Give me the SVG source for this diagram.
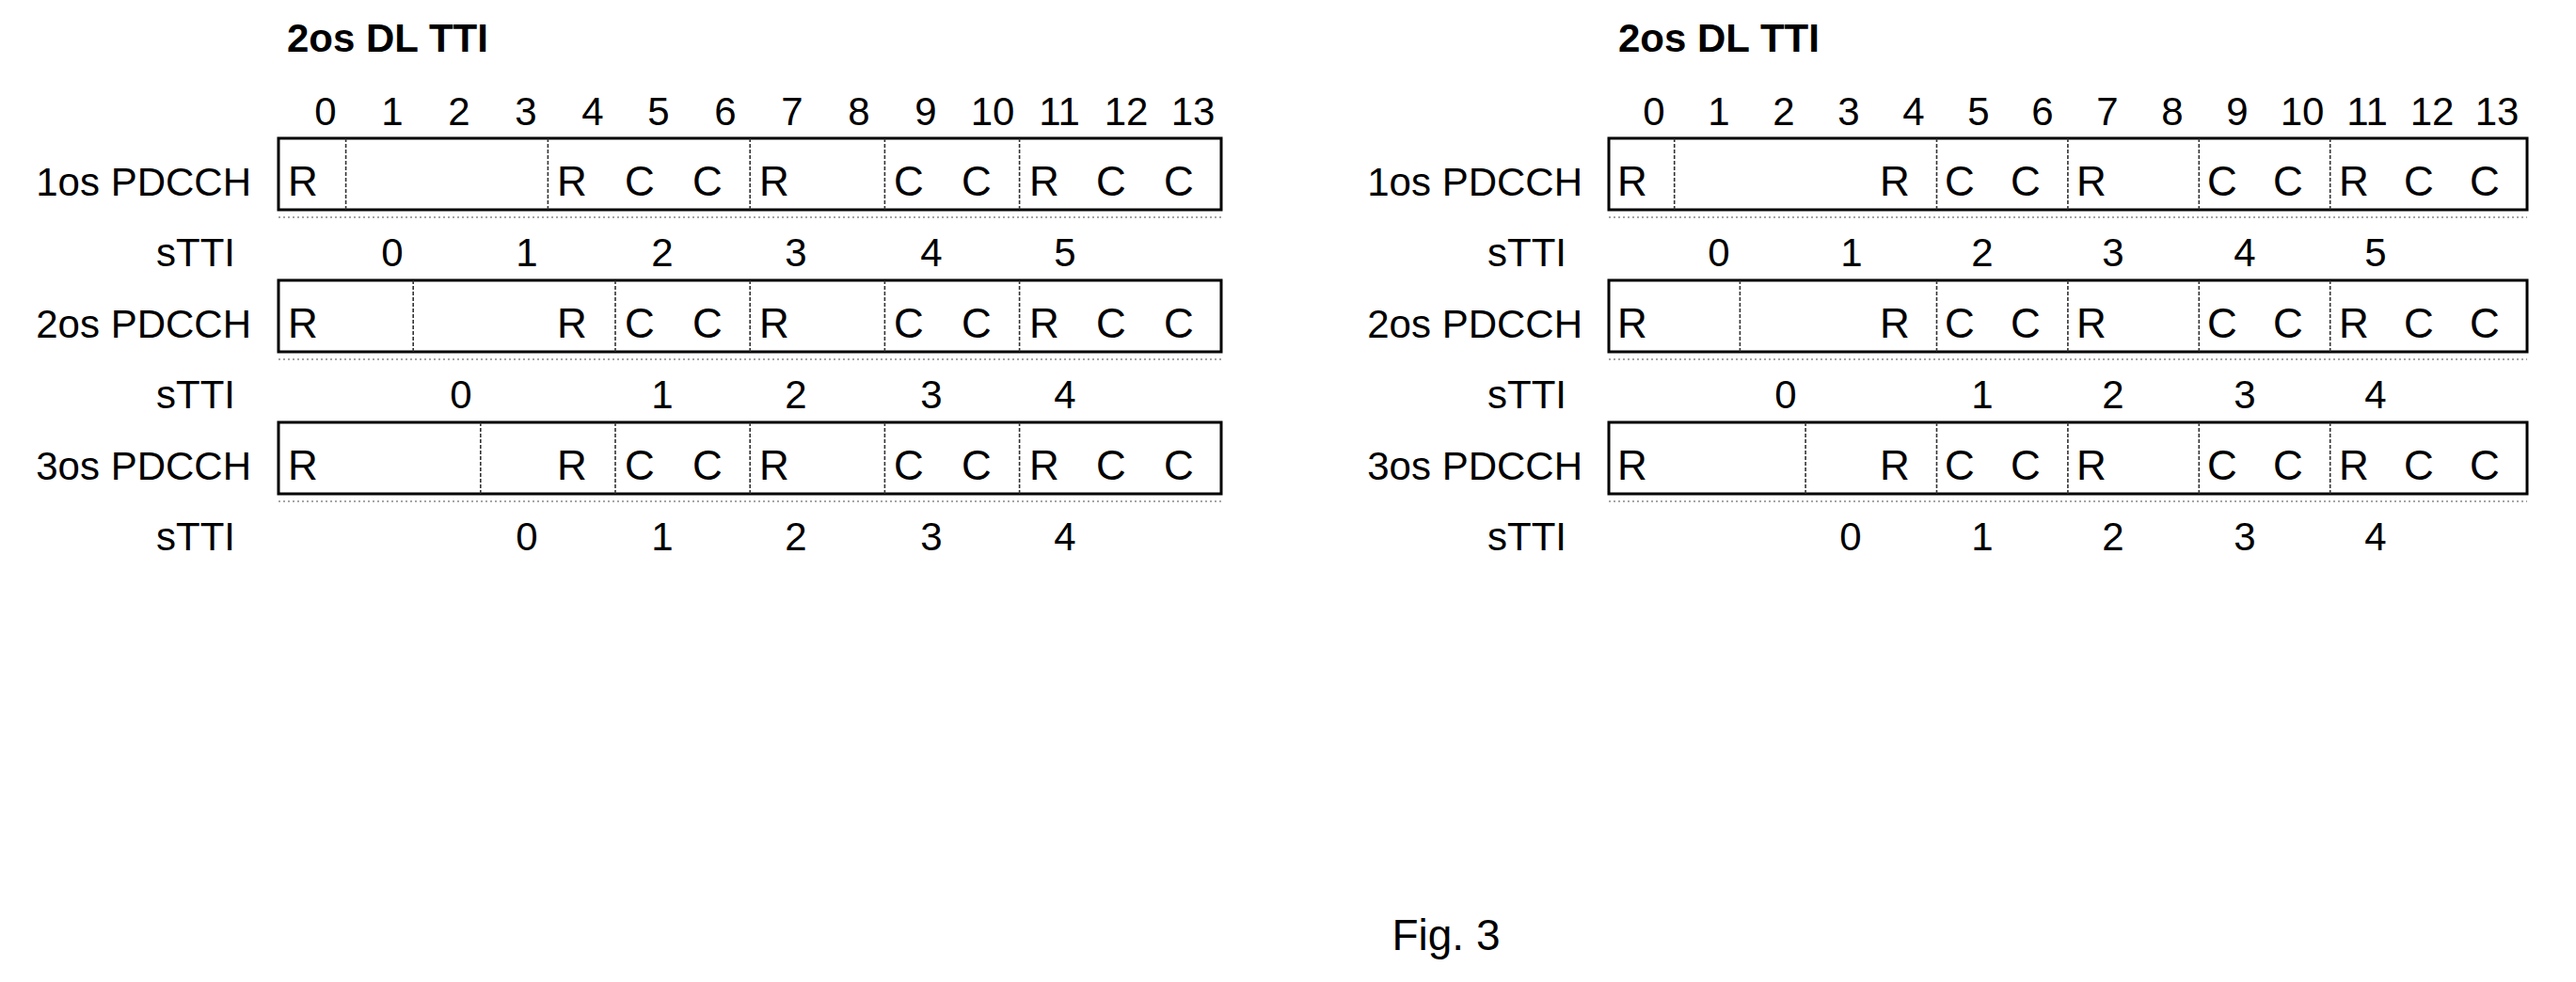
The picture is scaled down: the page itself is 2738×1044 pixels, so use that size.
<svg xmlns="http://www.w3.org/2000/svg" width="2738" height="1044" viewBox="0 0 2738 1044">
<style>
text{font-family:"Liberation Sans",Arial,sans-serif;fill:#000}
.t{font-size:42px;font-weight:bold}
.h{font-size:42px;text-anchor:middle}
.l{font-size:42px;text-anchor:end}
.c{font-size:44px;text-anchor:middle}
.box{fill:#fff;stroke:#000;stroke-width:3}
.d{stroke:#333;stroke-width:1.6;stroke-dasharray:4 2}
.u{stroke:#888;stroke-width:1.5;stroke-dasharray:2 3}
</style>
<g id="left">
<text class="t" x="305" y="55">2os DL TTI</text>
<g id="left-header"><text class="h" x="346" y="133">0</text><text class="h" x="417" y="133">1</text><text class="h" x="488" y="133">2</text><text class="h" x="559" y="133">3</text><text class="h" x="630" y="133">4</text><text class="h" x="700" y="133">5</text><text class="h" x="771" y="133">6</text><text class="h" x="842" y="133">7</text><text class="h" x="913" y="133">8</text><text class="h" x="984" y="133">9</text><text class="h" x="1055" y="133">10</text><text class="h" x="1126" y="133">11</text><text class="h" x="1197" y="133">12</text><text class="h" x="1268" y="133">13</text></g>
<g id="left-row1">
<text class="l" x="267" y="208">1os PDCCH</text>
<rect class="box" x="296" y="147" width="1002" height="76"/>
<path class="d" d="M367.6 147V223M582.4 147V223M797.2 147V223M940.4 147V223M1083.6 147V223"/>
<path class="u" d="M296 231H1298"/>
<text class="c" x="322" y="208">R</text><text class="c" x="608" y="208">R</text><text class="c" x="680" y="208">C</text><text class="c" x="752" y="208">C</text><text class="c" x="823" y="208">R</text><text class="c" x="966" y="208">C</text><text class="c" x="1038" y="208">C</text><text class="c" x="1110" y="208">R</text><text class="c" x="1181" y="208">C</text><text class="c" x="1253" y="208">C</text>
<text class="l" x="250" y="283">sTTI</text>
<text class="h" x="417" y="283">0</text><text class="h" x="560" y="283">1</text><text class="h" x="704" y="283">2</text><text class="h" x="846" y="283">3</text><text class="h" x="990" y="283">4</text><text class="h" x="1132" y="283">5</text>
</g>
<g id="left-row2">
<text class="l" x="267" y="359">2os PDCCH</text>
<rect class="box" x="296" y="298" width="1002" height="76"/>
<path class="d" d="M439.2 298V374M654 298V374M797.2 298V374M940.4 298V374M1083.6 298V374"/>
<path class="u" d="M296 382H1298"/>
<text class="c" x="322" y="359">R</text><text class="c" x="608" y="359">R</text><text class="c" x="680" y="359">C</text><text class="c" x="752" y="359">C</text><text class="c" x="823" y="359">R</text><text class="c" x="966" y="359">C</text><text class="c" x="1038" y="359">C</text><text class="c" x="1110" y="359">R</text><text class="c" x="1181" y="359">C</text><text class="c" x="1253" y="359">C</text>
<text class="l" x="250" y="434">sTTI</text>
<text class="h" x="490" y="434">0</text><text class="h" x="704" y="434">1</text><text class="h" x="846" y="434">2</text><text class="h" x="990" y="434">3</text><text class="h" x="1132" y="434">4</text>
</g>
<g id="left-row3">
<text class="l" x="267" y="510">3os PDCCH</text>
<rect class="box" x="296" y="449" width="1002" height="76"/>
<path class="d" d="M510.8 449V525M654 449V525M797.2 449V525M940.4 449V525M1083.6 449V525"/>
<path class="u" d="M296 533H1298"/>
<text class="c" x="322" y="510">R</text><text class="c" x="608" y="510">R</text><text class="c" x="680" y="510">C</text><text class="c" x="752" y="510">C</text><text class="c" x="823" y="510">R</text><text class="c" x="966" y="510">C</text><text class="c" x="1038" y="510">C</text><text class="c" x="1110" y="510">R</text><text class="c" x="1181" y="510">C</text><text class="c" x="1253" y="510">C</text>
<text class="l" x="250" y="585">sTTI</text>
<text class="h" x="560" y="585">0</text><text class="h" x="704" y="585">1</text><text class="h" x="846" y="585">2</text><text class="h" x="990" y="585">3</text><text class="h" x="1132" y="585">4</text>
</g>
</g>
<g id="right">
<text class="t" x="1720" y="55">2os DL TTI</text>
<g id="right-header"><text class="h" x="1758" y="133">0</text><text class="h" x="1827" y="133">1</text><text class="h" x="1896" y="133">2</text><text class="h" x="1965" y="133">3</text><text class="h" x="2034" y="133">4</text><text class="h" x="2103" y="133">5</text><text class="h" x="2171" y="133">6</text><text class="h" x="2240" y="133">7</text><text class="h" x="2309" y="133">8</text><text class="h" x="2378" y="133">9</text><text class="h" x="2447" y="133">10</text><text class="h" x="2516" y="133">11</text><text class="h" x="2585" y="133">12</text><text class="h" x="2654" y="133">13</text></g>
<g id="right-row1">
<text class="l" x="1682" y="208">1os PDCCH</text>
<rect class="box" x="1710" y="147" width="976" height="76"/>
<path class="d" d="M1779.7 147V223M2058.5 147V223M2197.9 147V223M2337.3 147V223M2476.7 147V223"/>
<path class="u" d="M1710 231H2686"/>
<text class="c" x="1735" y="208">R</text><text class="c" x="2014" y="208">R</text><text class="c" x="2083" y="208">C</text><text class="c" x="2153" y="208">C</text><text class="c" x="2223" y="208">R</text><text class="c" x="2362" y="208">C</text><text class="c" x="2432" y="208">C</text><text class="c" x="2502" y="208">R</text><text class="c" x="2571" y="208">C</text><text class="c" x="2641" y="208">C</text>
<text class="l" x="1665" y="283">sTTI</text>
<text class="h" x="1827" y="283">0</text><text class="h" x="1968" y="283">1</text><text class="h" x="2107" y="283">2</text><text class="h" x="2246" y="283">3</text><text class="h" x="2386" y="283">4</text><text class="h" x="2525" y="283">5</text>
</g>
<g id="right-row2">
<text class="l" x="1682" y="359">2os PDCCH</text>
<rect class="box" x="1710" y="298" width="976" height="76"/>
<path class="d" d="M1849.4 298V374M2058.5 298V374M2197.9 298V374M2337.3 298V374M2476.7 298V374"/>
<path class="u" d="M1710 382H2686"/>
<text class="c" x="1735" y="359">R</text><text class="c" x="2014" y="359">R</text><text class="c" x="2083" y="359">C</text><text class="c" x="2153" y="359">C</text><text class="c" x="2223" y="359">R</text><text class="c" x="2362" y="359">C</text><text class="c" x="2432" y="359">C</text><text class="c" x="2502" y="359">R</text><text class="c" x="2571" y="359">C</text><text class="c" x="2641" y="359">C</text>
<text class="l" x="1665" y="434">sTTI</text>
<text class="h" x="1898" y="434">0</text><text class="h" x="2107" y="434">1</text><text class="h" x="2246" y="434">2</text><text class="h" x="2386" y="434">3</text><text class="h" x="2525" y="434">4</text>
</g>
<g id="right-row3">
<text class="l" x="1682" y="510">3os PDCCH</text>
<rect class="box" x="1710" y="449" width="976" height="76"/>
<path class="d" d="M1919.1 449V525M2058.5 449V525M2197.9 449V525M2337.3 449V525M2476.7 449V525"/>
<path class="u" d="M1710 533H2686"/>
<text class="c" x="1735" y="510">R</text><text class="c" x="2014" y="510">R</text><text class="c" x="2083" y="510">C</text><text class="c" x="2153" y="510">C</text><text class="c" x="2223" y="510">R</text><text class="c" x="2362" y="510">C</text><text class="c" x="2432" y="510">C</text><text class="c" x="2502" y="510">R</text><text class="c" x="2571" y="510">C</text><text class="c" x="2641" y="510">C</text>
<text class="l" x="1665" y="585">sTTI</text>
<text class="h" x="1967" y="585">0</text><text class="h" x="2107" y="585">1</text><text class="h" x="2246" y="585">2</text><text class="h" x="2386" y="585">3</text><text class="h" x="2525" y="585">4</text>
</g>
</g>
<g id="connectors"/>
<text x="1537" y="1010" style="font-size:46px;text-anchor:middle">Fig. 3</text>
</svg>
